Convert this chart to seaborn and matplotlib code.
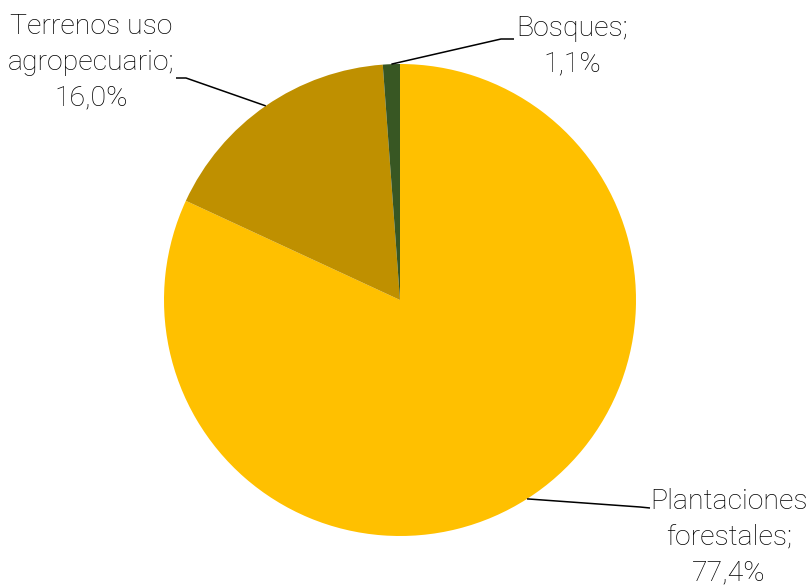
import numpy as np
import matplotlib
matplotlib.use("Agg")
import matplotlib.pyplot as plt
import seaborn as sns

# Distribution of land use (share of surface)
categories = ["Plantaciones\nforestales", "Terrenos uso\nagropecuario", "Bosques"]
values = [77.4, 16.0, 1.1]
colors = ["#FFC000", "#BF9000", "#385723"]

sns.set_theme(style="white")
plt.rcParams["font.family"] = ["Roboto", "DejaVu Sans"]

W, H = 807, 587
fig = plt.figure(figsize=(W / 100, H / 100), dpi=100)
ax = fig.add_axes([0, 0, 1, 1])

cx, cy, r = 400, H - 300, 236
wedges, _ = ax.pie(values, colors=colors, startangle=90, counterclock=False,
                   center=(cx, cy), radius=r, frame=True,
                   wedgeprops=dict(linewidth=0))
ax.set_xlim(0, W)
ax.set_ylim(0, H)
ax.set_aspect("equal")
ax.axis("off")

# label layout: (elbow point, line end, text centre) in pixel coords from top-left
layout = [
    ((640, 507), (650, 508), (729, 537)),
    ((186, 78), (176, 78), (91, 62)),
    ((501, 39), (514, 39), (572, 46)),
]

for w, name, v, (elb, end, txt) in zip(wedges, categories, values, layout):
    mid = np.deg2rad((w.theta1 + w.theta2) / 2)
    px, py = cx + r * np.cos(mid), cy + r * np.sin(mid)
    ax.plot([px, elb[0], end[0]], [py, H - elb[1], H - end[1]],
            color="black", lw=1.1, solid_capstyle="butt")
    label = f"{name};\n{v:.1f}".replace(".", ",") + "%"
    ax.text(txt[0], H - txt[1], label, ha="center", va="center",
            multialignment="center", fontsize=20.5, fontweight="light",
            color="black", linespacing=1.42)

fig.savefig("out.png", dpi=100, facecolor="white")
